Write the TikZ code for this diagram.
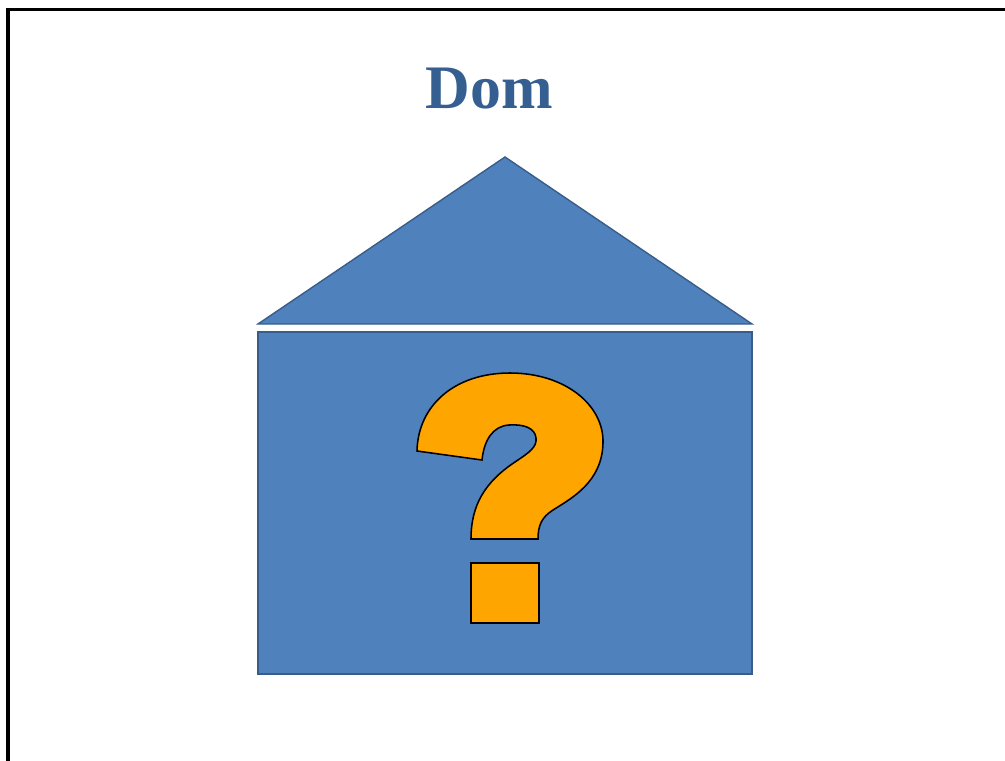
\documentclass[tikz,border=0pt]{standalone}
\usepackage{fontspec}
\setmainfont{Liberation Serif}
\usepackage{tikz}
\usetikzlibrary{positioning}
\definecolor{houseblue}{RGB}{79,129,189}
\definecolor{houseedge}{RGB}{56,93,138}
\definecolor{titleblue}{RGB}{54,95,145}
\definecolor{qorange}{RGB}{255,165,0}

\begin{document}
\begin{tikzpicture}[x=0.025cm,y=-0.025cm,
  housepart/.style={fill=houseblue,draw=houseedge,line width=1pt,line join=miter},
  qmark/.style={fill=qorange,draw=black,line width=1.1pt}]
\useasboundingbox (0,0) rectangle (1005,761);
% frame
\draw[line width=2.2pt] (8,761) -- (8,9.5) -- (1005,9.5);
% title
\node[titleblue,font=\fontsize{44}{50}\selectfont\bfseries] (title) at (489,89) {Dom};
% roof
\coordinate (apex) at (505,157);
\coordinate (eaveL) at (258,324);
\coordinate (eaveR) at (752,324);
\draw[housepart] (eaveL) -- (apex) -- (eaveR) -- cycle;
% walls
\draw[housepart] (258,332) rectangle (752,674);
% question mark
\draw[qmark] (417,451) .. controls (418,405) and (455,373) .. (510,373)
  .. controls (565,373) and (604,405) .. (603,443)
  .. controls (602,482) and (572,498) .. (553,510)
  .. controls (542,517) and (538,525) .. (538,539)
  -- (471,539)
  .. controls (471,505) and (485,482) .. (515,462)
  .. controls (530,452) and (537,447) .. (536,438)
  .. controls (535,428) and (524,424) .. (509,425)
  .. controls (493,426) and (484,440) .. (482,460)
  -- cycle;
\draw[qmark] (471,563) rectangle (539,623);
\end{tikzpicture}
\end{document}
